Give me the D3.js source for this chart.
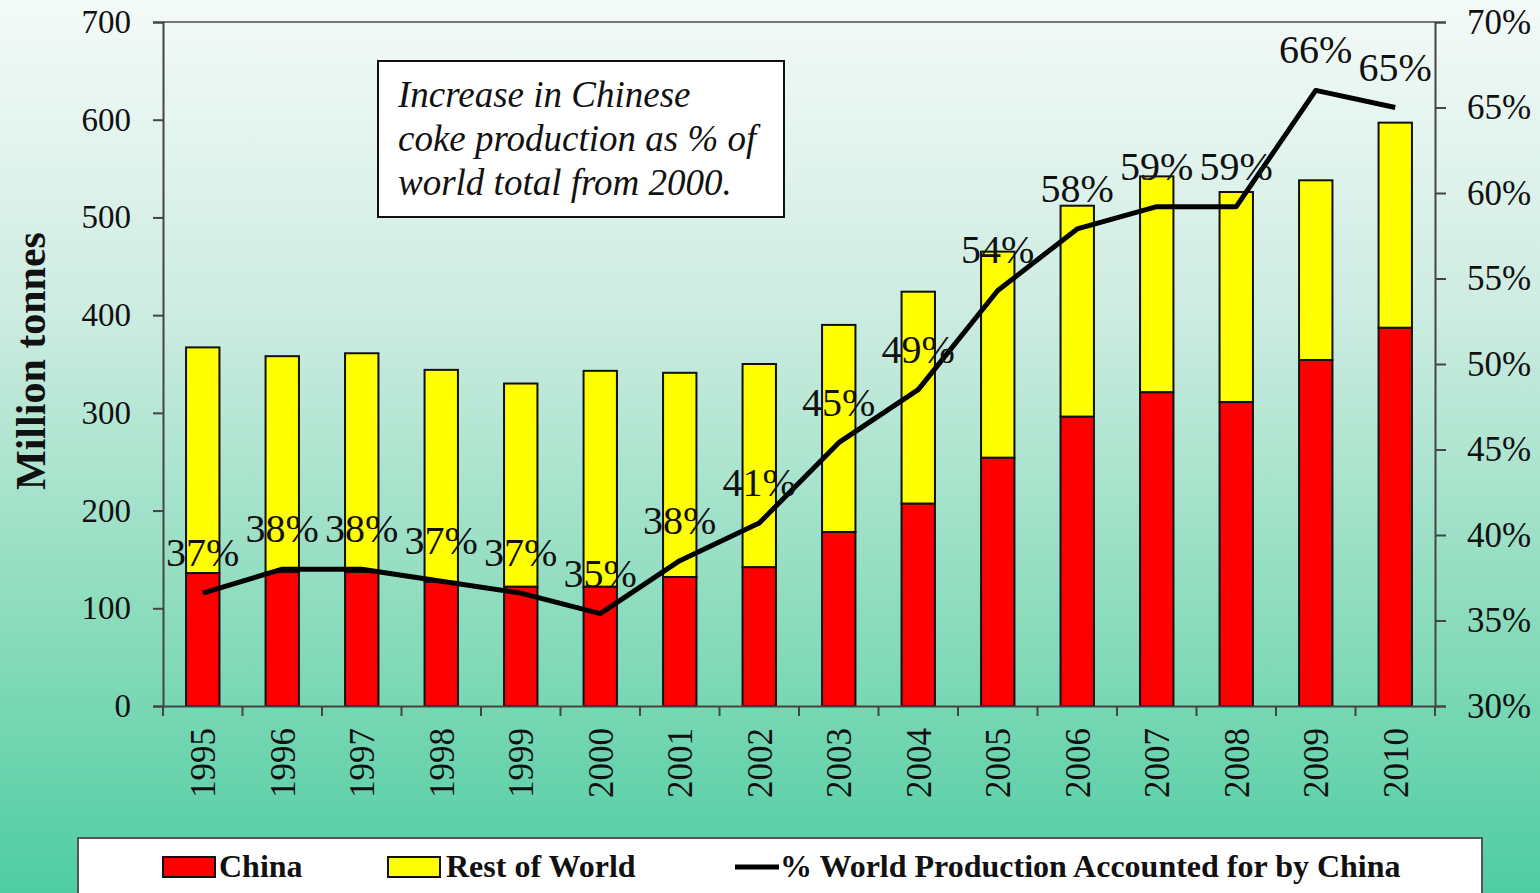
<!DOCTYPE html>
<html>
<head>
<meta charset="utf-8">
<script src="https://cdn.jsdelivr.net/npm/d3@7"></script>
<style>
  body { margin: 0; overflow: hidden; }
  text { font-family: "Liberation Serif", "Times New Roman", serif; fill: #111; }
</style>
</head>
<body>
<svg id="Viz"></svg>
<script>
width = 1540,
height = 893;

// data
var years = ["1995","1996","1997","1998","1999","2000","2001","2002","2003","2004","2005","2006","2007","2008","2009","2010"];
var china = [136, 137, 137, 127, 122, 122, 132, 142, 178, 207, 254, 296, 321, 311, 354, 387];
var total = [367, 358, 361, 344, 330, 343, 341, 350, 390, 424, 465, 512, 542, 526, 538, 597];
var share = [36.6, 38.0, 38.0, 37.3, 36.6, 35.4, 38.5, 40.7, 45.4, 48.5, 54.3, 57.9, 59.2, 59.2, 66.0, 65.0];
var shareLabels = ["37%","38%","38%","37%","37%","35%","38%","41%","45%","49%","54%","58%","59%","59%","66%","65%"];
var leftTicks = [0, 100, 200, 300, 400, 500, 600, 700];
var rightTicks = [30, 35, 40, 45, 50, 55, 60, 65, 70];

function first() {
  var svg = d3.select("#Viz").attr("width", width).attr("height", height);

  // background gradient
  var grad = svg.append("defs").append("linearGradient")
      .attr("id", "bg").attr("x1", 0).attr("y1", 0).attr("x2", 0).attr("y2", 1);
  grad.append("stop").attr("offset", "0").attr("stop-color", "#f4faf8");
  grad.append("stop").attr("offset", "0.35").attr("stop-color", "#cdece1");
  grad.append("stop").attr("offset", "0.75").attr("stop-color", "#80d9b7");
  grad.append("stop").attr("offset", "1").attr("stop-color", "#4ecda3");
  svg.append("rect").attr("width", width).attr("height", height).attr("fill", "url(#bg)");

  var left = 163, right = 1435, top = 22, bottom = 706;

  var x = d3.scaleBand().domain(years).range([left, right]).paddingInner(0.58).paddingOuter(0.29);
  var xb = d3.scaleBand().domain(years).range([left, right]);
  var y = d3.scaleLinear().domain([0, 700]).range([bottom, top]);
  var y2 = d3.scaleLinear().domain([30, 70]).range([bottom, top]);

  // top frame line
  svg.append("line").attr("x1", left).attr("x2", right).attr("y1", top).attr("y2", top)
    .attr("stroke", "#777").attr("stroke-width", 2);

  // bars
  var rows = years.map(function(d, i){ return {year: d, china: china[i], total: total[i]}; });
  var g = svg.append("g");
  g.selectAll("rect.row").data(rows).enter().append("rect")
      .attr("x", function(d){ return x(d.year); })
      .attr("width", x.bandwidth())
      .attr("y", function(d){ return y(d.total); })
      .attr("height", function(d){ return y(d.china) - y(d.total); })
      .attr("fill", "#ffff00").attr("stroke", "#111").attr("stroke-width", 2);
  g.selectAll("rect.cn").data(rows).enter().append("rect")
      .attr("x", function(d){ return x(d.year); })
      .attr("width", x.bandwidth())
      .attr("y", function(d){ return y(d.china); })
      .attr("height", function(d){ return y(0) - y(d.china); })
      .attr("fill", "#ff0000").attr("stroke", "#111").attr("stroke-width", 2);

  // axes
  var axL = svg.append("g").attr("transform", "translate(" + left + ",0)")
      .call(d3.axisLeft(y).tickValues(leftTicks).tickSize(10).tickPadding(22));
  var axR = svg.append("g").attr("transform", "translate(" + right + ",0)")
      .call(d3.axisRight(y2).tickValues(rightTicks).tickSize(11).tickPadding(21)
        .tickFormat(function(d){ return d + "%"; }));
  var axB = svg.append("g").attr("transform", "translate(0," + bottom + ")")
      .call(d3.axisBottom(xb).tickSize(0).tickPadding(0));
  [axL, axR, axB].forEach(function(a){
    a.select(".domain").attr("stroke", "#444").attr("stroke-width", 2);
    a.selectAll(".tick line").attr("stroke", "#444").attr("stroke-width", 2);
    a.selectAll("text").style("font-family", "Liberation Serif, serif").attr("fill", "#111");
  });
  axL.selectAll("text").style("font-size", "33px");
  axR.selectAll("text").style("font-size", "35px");
  axB.selectAll(".tick text")
      .style("font-size", "35px")
      .attr("transform", "rotate(-90)")
      .attr("text-anchor", "end")
      .attr("x", -22).attr("y", 0).attr("dy", "0.35em");
  // x ticks at category boundaries
  svg.append("g").selectAll("line").data(years.concat(["end"])).enter().append("line")
      .attr("x1", function(d, i){ return left + i * xb.step(); })
      .attr("x2", function(d, i){ return left + i * xb.step(); })
      .attr("y1", bottom).attr("y2", bottom + 10)
      .attr("stroke", "#444").attr("stroke-width", 2);

  // share line
  var pts = years.map(function(d, i){ return [xb(d) + xb.bandwidth() / 2, y2(share[i])]; });
  svg.append("path").datum(pts)
      .attr("d", d3.line())
      .attr("fill", "none").attr("stroke", "#000").attr("stroke-width", 5)
      .attr("stroke-linejoin", "round");
  svg.append("g").selectAll("text").data(pts).enter().append("text")
      .attr("x", function(d){ return d[0]; })
      .attr("y", function(d){ return d[1] - 41; })
      .attr("dy", "0.35em")
      .attr("text-anchor", "middle")
      .style("font-size", "40px")
      .text(function(d, i){ return shareLabels[i]; });

  // y title
  svg.append("text")
      .attr("transform", "translate(45,361) rotate(-90)")
      .attr("text-anchor", "middle")
      .style("font-size", "42px").style("font-weight", "bold")
      .text("Million tonnes");

  // annotation box
  svg.append("rect").attr("x", 378).attr("y", 61).attr("width", 406).attr("height", 156)
      .attr("fill", "#fff").attr("stroke", "#111").attr("stroke-width", 2);
  var note = ["Increase in Chinese", "coke production as % of", "world total from 2000."];
  svg.append("g").selectAll("text").data(note).enter().append("text")
      .attr("x", 398).attr("y", function(d, i){ return 107 + i * 44; })
      .style("font-size", "37px").style("font-style", "italic")
      .text(function(d){ return d; });

  // legend
  svg.append("rect").attr("x", 78).attr("y", 838).attr("width", 1404).attr("height", 70)
      .attr("fill", "#fff").attr("stroke", "#555").attr("stroke-width", 2);
  var lg = svg.append("g");
  lg.append("rect").attr("x", 163).attr("y", 857).attr("width", 52).attr("height", 20)
      .attr("fill", "#ff0000").attr("stroke", "#111").attr("stroke-width", 2);
  lg.append("rect").attr("x", 388).attr("y", 857).attr("width", 52).attr("height", 20)
      .attr("fill", "#ffff00").attr("stroke", "#111").attr("stroke-width", 2);
  lg.append("line").attr("x1", 735).attr("x2", 779).attr("y1", 867).attr("y2", 867)
      .attr("stroke", "#000").attr("stroke-width", 5);
  var legText = [["China", 219], ["Rest of World", 446], ["% World Production Accounted for by China", 780]];
  lg.selectAll("text").data(legText).enter().append("text")
      .attr("x", function(d){ return d[1]; }).attr("y", 877)
      .style("font-size", "32px").style("font-weight", "bold")
      .text(function(d){ return d[0]; });
}

document.addEventListener('DOMContentLoaded', () => {
  first();
});
</script>
</body>
</html>
